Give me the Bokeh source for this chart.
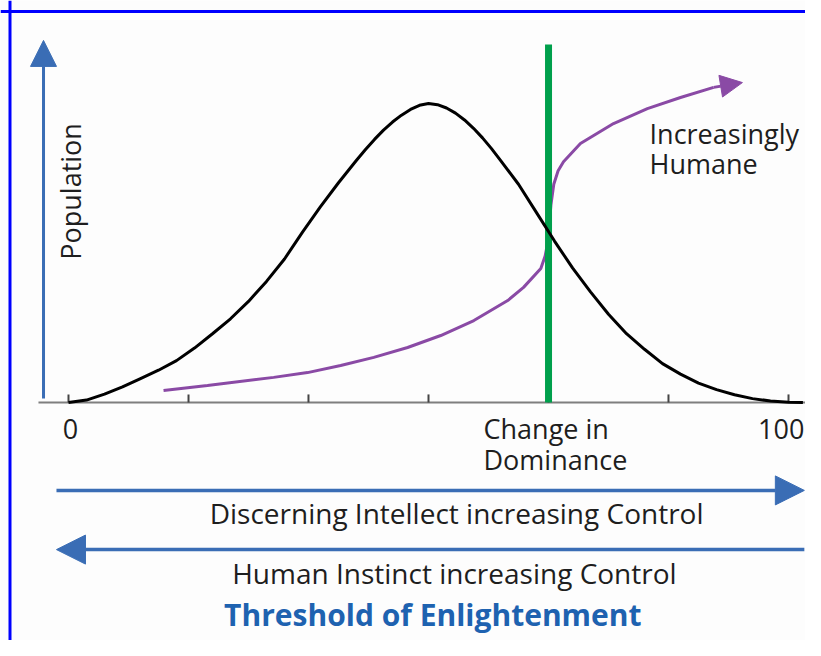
from bokeh.plotting import figure
from bokeh.models import Range1d, Arrow, NormalHead, Span
from bokeh.core.properties import value
from bokeh.embed import file_html
from bokeh.resources import INLINE
import math

# ---- data ----
bell_x = [0, 2.5, 5, 7.5, 10, 12.5, 15, 17.5, 20, 22.5, 25, 27.5, 30, 32.5, 35, 37.5,
          40, 41.25, 42.5, 43.75, 45, 46.25, 47.5, 48.75, 50, 51.25, 52.5, 53.75, 55,
          56.25, 57.5, 58.75, 60, 62.5, 65, 67.5, 70, 72.5, 75,
          77.5, 80, 82.5, 85, 87.5, 90, 92.5, 95, 97.5, 100, 102]
bell_y = [0, 0.8, 2.8, 5.2, 8.0, 10.8, 14.0, 18.2, 23.0, 28.0, 33.8, 40.5, 48.0, 57.0,
          65.5, 73.5, 81.0, 84.6, 88.0, 91.1, 93.8, 96.1, 98.0, 99.4, 100, 99.6, 98.5,
          96.8, 94.5, 91.7, 88.5, 84.9, 81.0, 73.0, 63.5,
          54.0, 45.0, 37.0, 29.5, 23.0, 17.8, 13.0, 9.5, 6.5, 4.3, 2.6, 1.3, 0.5, 0.1, 0]

humane_x = [13.2, 19.3, 28.5, 33.2, 37.8, 42.4, 47.1, 51.7, 56.3, 61.0, 63.2, 65.6,
            66.2, 66.6, 66.8, 67.0, 67.4, 68.0, 68.75, 71.1, 75.7, 80.4, 85.0, 89.6, 93.6]
humane_y = [4.0, 5.7, 8.4, 10.0, 12.4, 15.1, 18.4, 22.4, 27.4, 34.1, 38.5, 44.8,
            49.0, 54.0, 60.0, 66.0, 73.0, 77.5, 80.5, 86.6, 93.3, 98.3, 102.0, 105.4, 107.0]

threshold_x = 66.67
threshold_top = 119.7

tick_values = [0, 16.67, 33.33, 50, 66.67, 83.33, 100]
tick_labels = ["0", "Change in", "Dominance", "100"]
tick_label_x = [0.28, 57.64, 57.64, 102.2]
tick_label_y = [-8.7, -8.7, -19.06, -8.7]
tick_label_align = ["center", "left", "left", "right"]

note_lines = ["Increasingly", "Humane"]
note_x = [80.7, 80.7]
note_y = [90.0, 79.9]

arrow_captions = ["Discerning Intellect increasing Control", "Human Instinct increasing Control"]
caption_x = [53.9, 53.6]
caption_y = [-36.8, -56.9]

title_text = "Threshold of Enlightenment"

# ---- figure ----
p = figure(width=805, height=640, output_backend="svg", toolbar_location=None,
           x_range=Range1d(-9.444, 102.36), y_range=Range1d(-79.6, 134.45),
           x_axis_type=None, y_axis_type=None, min_border=0)
p.grid.visible = False
p.outline_line_color = None
p.background_fill_color = "#fdfdfd"
p.border_fill_color = "#fdfdfd"

BLUE = "#3a6db5"
FONT = "Open Sans"
TXT = "#1e1e1e"

# frame border (top & left)
p.add_layout(Span(location=130.8, dimension="width", line_color="#0000ff", line_width=3))
p.add_layout(Span(location=-8.125, dimension="height", line_color="#0000ff", line_width=3))

# baseline axis and ticks
p.segment(x0=[-4.17], y0=[0], x1=[103.4], y1=[0], line_color="#7f7f7f", line_width=2)
p.segment(x0=tick_values, y0=[0] * len(tick_values), x1=tick_values,
          y1=[2.7] * len(tick_values), line_color="#444444", line_width=2)

# population arrow
p.add_layout(Arrow(end=NormalHead(size=26, fill_color=BLUE, line_color=BLUE),
                   x_start=-3.47, y_start=1.34, x_end=-3.47, y_end=121.1,
                   line_color=BLUE, line_width=3))

# humane curve (under the threshold line)
p.line(humane_x[:-1], humane_y[:-1], line_color="#8a4aa5", line_width=3)
p.add_layout(Arrow(end=NormalHead(size=22, fill_color="#8a4aa5", line_color="#8a4aa5"),
                   x_start=humane_x[-2], y_start=humane_y[-2],
                   x_end=humane_x[-1], y_end=humane_y[-1],
                   line_color="#8a4aa5", line_width=3))

# threshold line
p.segment(x0=[threshold_x], y0=[0], x1=[threshold_x], y1=[threshold_top],
          line_color="#00a04c", line_width=7)

# population bell curve
p.line(bell_x, bell_y, line_color="black", line_width=3)

# tick labels
p.text(x=tick_label_x, y=tick_label_y, text=tick_labels,
       text_align=tick_label_align, text_baseline="middle",
       text_font=value(FONT), text_font_size="27px", text_color=TXT)

# Population label
p.text(x=[0.28], y=[70.6], text=["Population"], angle=math.pi / 2,
       text_align="center", text_baseline="middle",
       text_font=value(FONT), text_font_size="27px", text_color=TXT)

# note
p.text(x=note_x, y=note_y, text=note_lines, text_align="left", text_baseline="middle",
       text_font=value(FONT), text_font_size="27px", text_color=TXT)

# horizontal arrows
p.add_layout(Arrow(end=NormalHead(size=29, fill_color=BLUE, line_color=BLUE),
                   x_start=-1.67, y_start=-29.4, x_end=102.2, y_end=-29.4,
                   line_color=BLUE, line_width=3.5))
p.add_layout(Arrow(end=NormalHead(size=29, fill_color=BLUE, line_color=BLUE),
                   x_start=102.2, y_start=-49.2, x_end=-1.67, y_end=-49.2,
                   line_color=BLUE, line_width=3.5))

p.text(x=caption_x, y=caption_y, text=arrow_captions, text_align="center",
       text_baseline="middle", text_font=value(FONT), text_font_size="28px",
       text_color=TXT)

p.text(x=[50.6], y=[-70.9], text=[title_text], text_align="center", text_baseline="middle",
       text_font=value(FONT), text_font_size="30px", text_font_style="bold",
       text_color="#1e62b0")

open("out.html", "w").write(file_html(p, INLINE))
